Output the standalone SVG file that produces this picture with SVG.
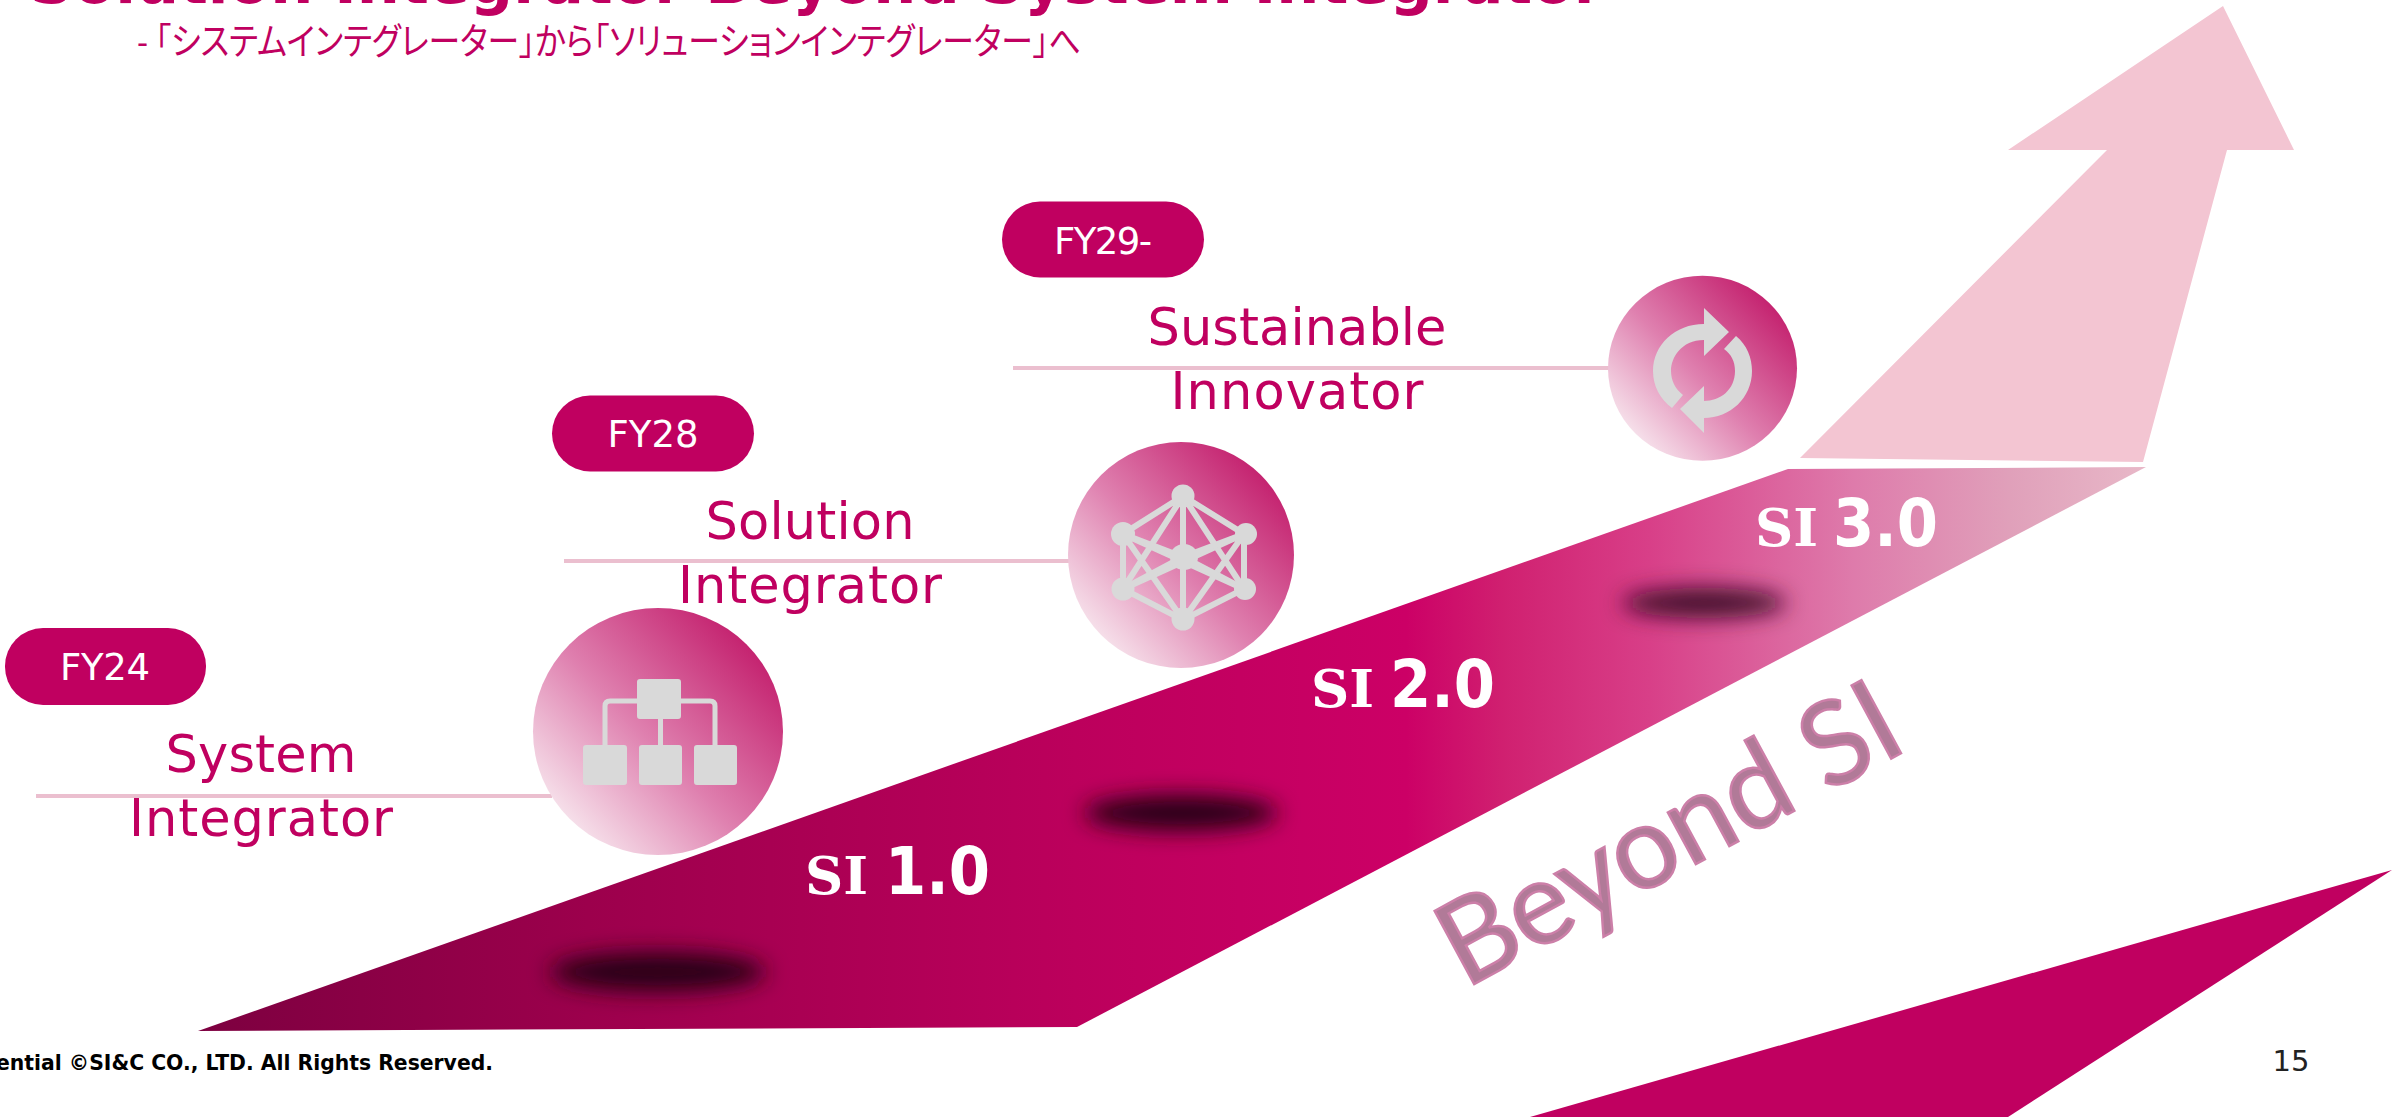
<svg xmlns="http://www.w3.org/2000/svg" width="2392" height="1117" viewBox="0 0 2392 1117">
<style>
.m{fill:#C00060}
.lbl{font-family:"DejaVu Sans",sans-serif;font-size:51px;fill:#C00060;text-anchor:middle}
.pilltx{font-family:"DejaVu Sans",sans-serif;font-size:37px;fill:#fff;text-anchor:middle}
.si{font-family:"DejaVu Sans",sans-serif;font-weight:bold;font-size:66px;fill:#fff}
.si2{font-family:"DejaVu Serif",serif;font-weight:bold;font-size:53px}
.ln{stroke:#EBBFCF;stroke-width:4;fill:none}
.ic{fill:#D9D9D9}
.st{stroke:#D9D9D9;stroke-width:6;fill:none}
</style>
<defs>
<linearGradient id="cg" x1="0.18" y1="0.9" x2="0.92" y2="0.2"><stop offset="0" stop-color="#F6E0EA"/><stop offset="0.45" stop-color="#DF80AF"/><stop offset="1" stop-color="#C4226F"/></linearGradient>
<linearGradient id="tg" gradientUnits="userSpaceOnUse" x1="198" y1="0" x2="2146" y2="0"><stop offset="0" stop-color="#7D0040"/><stop offset="0.2" stop-color="#9C004C"/><stop offset="0.45" stop-color="#BC005C"/><stop offset="0.62" stop-color="#CC0066"/><stop offset="0.67" stop-color="#D02070"/><stop offset="0.745" stop-color="#D83F88"/><stop offset="0.85" stop-color="#DE7BAB"/><stop offset="0.93" stop-color="#E0A0BA"/><stop offset="1" stop-color="#E8B8C8"/></linearGradient>
<linearGradient id="bs" gradientUnits="userSpaceOnUse" x1="1430" y1="960" x2="1900" y2="700"><stop offset="0" stop-color="#B17A98"/><stop offset="1" stop-color="#DA78A8"/></linearGradient>
<filter id="bl" x="-30%" y="-100%" width="160%" height="300%"><feGaussianBlur stdDeviation="11"/></filter>
</defs>

<g id="title">
<text x="30" y="3" font-family="DejaVu Sans,sans-serif" font-size="60.500" font-weight="bold" class="m">Solution Integrator Beyond System Integrator</text>
<text x="137" y="55" font-family="Noto Sans CJK JP,sans-serif" font-size="37" class="m" style="font-feature-settings:'palt'" textLength="944" lengthAdjust="spacingAndGlyphs">- 「システムインテグレーター」から「ソリューションインテグレーター」へ</text>
</g>

<g id="arrow"><polygon points="1800,458 2143,462 2227,150 2294,150 2223,6 2008,150 2107,150" fill="#F3C5D2"/></g>
<g id="ramp"><polygon points="198,1031 1077,1027 2146,467 1788,469" fill="url(#tg)"/></g>
<g id="corner"><polygon points="1530,1117 2392,870 2008,1117" class="m"/></g>

<g id="shadows" filter="url(#bl)">
<ellipse cx="658" cy="972" rx="108" ry="20" fill="#2A0018"/>
<ellipse cx="1181" cy="813" rx="97" ry="18" fill="#2A0018"/>
<ellipse cx="1704" cy="603" rx="82" ry="15" fill="#42102C"/>
</g>

<g id="connectors">
<line class="ln" x1="36" y1="796" x2="552" y2="796"/>
<line class="ln" x1="564" y1="561" x2="1072" y2="561"/>
<line class="ln" x1="1013" y1="368" x2="1612" y2="368"/>
</g>

<g id="si1">
<rect x="5" y="628" width="201" height="77" rx="38" class="m"/>
<text class="pilltx" x="105" y="680" textLength="90">FY24</text>
<text class="lbl" x="261" y="772" textLength="191">System</text>
<text class="lbl" x="261" y="836" textLength="264">Integrator</text>
<ellipse cx="658" cy="731.500" rx="125" ry="123.500" fill="url(#cg)"/>
<path d="M605 745V706q0-5 5-5h100q5 0 5 5v39M660.500 719v26" fill="none" stroke="#D9D9D9" stroke-width="5"/>
<path class="ic" d="M640 679h38q3 0 3 3v34q0 3-3 3h-38q-3 0-3-3v-34q0-3 3-3zM586 745h38q3 0 3 3v34q0 3-3 3h-38q-3 0-3-3v-34q0-3 3-3zM642 745h37q3 0 3 3v34q0 3-3 3h-37q-3 0-3-3v-34q0-3 3-3zM697 745h37q3 0 3 3v34q0 3-3 3h-37q-3 0-3-3v-34q0-3 3-3z"/>
<text class="si" y="894"><tspan class="si2" x="805">SI</tspan> <tspan x="885" textLength="105" lengthAdjust="spacingAndGlyphs">1.0</tspan></text>
</g>

<g id="si2">
<rect x="552" y="395.500" width="202" height="76" rx="38" class="m"/>
<text class="pilltx" x="653" y="447" textLength="91">FY28</text>
<text class="lbl" x="810" y="539" textLength="209">Solution</text>
<text class="lbl" x="810" y="603" textLength="264">Integrator</text>
<circle cx="1181" cy="555" r="113" fill="url(#cg)"/>
<g class="st">
<path d="M1183 496L1123 534V589L1183 620L1244 589V534ZM1183 496V620M1183 496L1123 589M1183 496L1244 589M1123 534L1244 589M1244 534L1123 589M1123 534L1183 620M1244 534L1183 620"/>
<path d="M1123 534L1183 557L1244 534M1123 589L1183 557L1244 589"/>
</g>
<g class="ic">
<circle cx="1183" cy="496" r="11.500"/><circle cx="1123" cy="534" r="12"/><circle cx="1246" cy="534" r="11"/>
<circle cx="1123" cy="589" r="11.500"/><circle cx="1245" cy="589" r="11"/><circle cx="1183" cy="619" r="11.500"/><ellipse cx="1184" cy="557" rx="14" ry="13"/>
</g>
<text class="si" y="707"><tspan class="si2" x="1311">SI</tspan> <tspan x="1390" textLength="105" lengthAdjust="spacingAndGlyphs">2.0</tspan></text>
</g>

<g id="si3">
<rect x="1002" y="201.500" width="202" height="76" rx="38" class="m"/>
<text class="pilltx" x="1103" y="254" textLength="98">FY29-</text>
<text class="lbl" x="1297" y="345" textLength="299">Sustainable</text>
<text class="lbl" x="1297" y="409" textLength="253">Innovator</text>
<ellipse cx="1702.500" cy="368.300" rx="94.500" ry="92.500" fill="url(#cg)"/>
<path class="ic" d="M1704 308L1729 332L1704 356V340C1681 340 1671 358 1671 371C1671 380 1675 389 1683 395L1672 408C1660 399 1653 386 1653 371C1653 345 1675 324 1704 324ZM1736 336C1747 345 1752 358 1752 371C1752 398 1730 418 1704 418V433L1680 409L1704 386V401C1720 401 1735 390 1735 371C1735 361 1731 354 1724 349Z"/>
<text class="si" y="546"><tspan class="si2" x="1755">SI</tspan> <tspan x="1833" textLength="105" lengthAdjust="spacingAndGlyphs">3.0</tspan></text>
</g>

<g id="beyond"><text x="0" y="0" transform="translate(1465,989) rotate(-28.400)" font-family="Lato,sans-serif" font-size="116" fill="url(#bs)" stroke="#CC7FA8" stroke-width="2.500" textLength="506" lengthAdjust="spacingAndGlyphs">Beyond SI</text></g>

<g id="footer">
<text x="-4" y="1070" font-family="DejaVu Sans,sans-serif" font-weight="bold" font-size="21" fill="#000" textLength="497" lengthAdjust="spacingAndGlyphs">ential ©SI&amp;C CO., LTD. All Rights Reserved.</text>
<text x="2291" y="1071" text-anchor="middle" font-family="DejaVu Sans,sans-serif" font-size="29" fill="#222">15</text>
</g>
</svg>
